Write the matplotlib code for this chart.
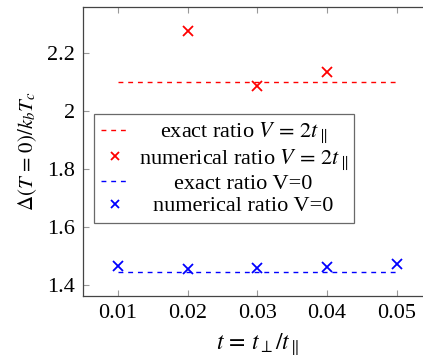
# Gap ratio Delta(T=0)/k_b T_c versus interchain hopping t
import matplotlib
matplotlib.use('Agg')
import matplotlib.pyplot as plt
from matplotlib.ticker import FuncFormatter

# data
t_vals = [0.01, 0.02, 0.03, 0.04, 0.05]
exact_v2 = [2.099, 2.099, 2.099, 2.099, 2.099]
t_num_v2 = [0.02, 0.03, 0.04]
num_v2 = [2.273, 2.084, 2.133]
exact_v0 = [1.444, 1.444, 1.444, 1.444, 1.444]
num_v0 = [1.466, 1.454, 1.459, 1.463, 1.472]
x_ticks = [0.01, 0.02, 0.03, 0.04, 0.05]
y_ticks = [1.4, 1.6, 1.8, 2.0, 2.2]

plt.rcParams['font.family'] = ['Liberation Serif', 'DejaVu Serif']
plt.rcParams['mathtext.fontset'] = 'stix'

fig = plt.figure(figsize=(4.23, 3.56), dpi=100)
# axes box runs past the right edge, as in the cropped reference
ax = fig.add_axes([83.3 / 423, 1 - 296 / 356, 348 / 423, 288.7 / 356])

ax.plot(t_vals, exact_v2, color='#ff0000', ls=(0, (3.5, 3.5)), lw=1.0,
        label=r'exact ratio $V\,=\,2t_\parallel$')
ax.plot(t_num_v2, num_v2, ls='none', marker='x', color='#ff0000', ms=6.5, mew=1.3,
        label=r'numerical ratio $V\,=\,2t_\parallel$')
ax.plot(t_vals, exact_v0, color='#0000ff', ls=(0, (3.5, 3.5)), lw=1.0,
        label='exact ratio V=0')
ax.plot(t_vals, num_v0, ls='none', marker='x', color='#0000ff', ms=6.5, mew=1.3,
        label='numerical ratio V=0')

ax.set_xlim(0.005, 0.055)
ax.set_ylim(1.362, 2.356)
ax.set_xticks(x_ticks)
ax.set_yticks(y_ticks)
ax.xaxis.set_major_formatter(FuncFormatter(lambda v, p: f'{v:.2f}'))
ax.yaxis.set_major_formatter(FuncFormatter(lambda v, p: f'{v:g}'))
ax.tick_params(direction='in', length=4, width=0.8, color='#999999',
               top=True, right=True, labelsize=16, pad=6)
for s in ax.spines.values():
    s.set_color('#444444')
    s.set_linewidth(0.9)

ax.set_xlabel(r'$t\,=\,t_\perp/t_\parallel$', fontsize=17, labelpad=6)
ax.set_ylabel(r'$\Delta(T\,=\,0)/k_bT_c$', fontsize=15, labelpad=6)

leg = ax.legend(loc='upper left', bbox_to_anchor=(0.031, 0.63), fontsize=16,
                frameon=True, fancybox=False, edgecolor='#444444',
                handlelength=1.3, handletextpad=0.4, labelspacing=0.08,
                borderpad=0.3, borderaxespad=0, markerscale=0.8)
leg.get_frame().set_linewidth(0.9)

# centre the legend texts in their column, as pgfplots does
renderer = fig.canvas.get_renderer()
widths = [t.get_window_extent(renderer).width for t in leg.get_texts()]
for t, w in zip(leg.get_texts(), widths):
    t.set_x((max(widths) - w) / 2)

fig.savefig('out.png', dpi=100)
